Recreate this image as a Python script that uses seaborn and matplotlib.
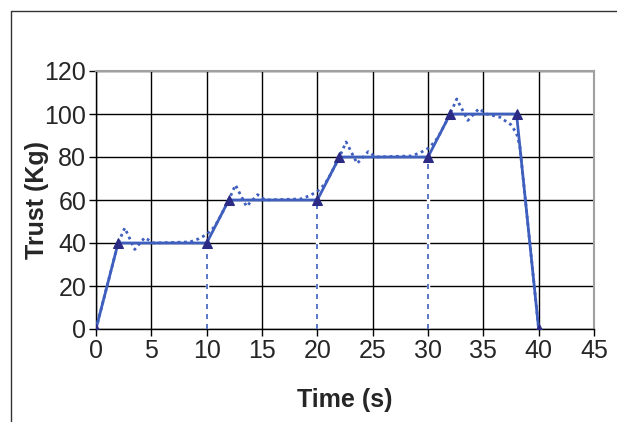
import numpy as np
import pandas as pd
import seaborn as sns
import matplotlib
matplotlib.use("Agg")
import matplotlib.pyplot as plt
from matplotlib.lines import Line2D

# commanded thrust steps (solid line with triangles)
step_time = [0, 2, 10, 12, 20, 22, 30, 32, 38, 40]
step_thrust = [0, 40, 40, 60, 60, 80, 80, 100, 100, 0]

# measured response (dotted line)
resp_time = [0, 2, 2.6, 3.5, 4.4, 5.2, 8.5, 9.3, 10, 10.6, 11,
             12, 12.6, 13.6, 14.6, 15.3, 18.5, 19.3, 20, 20.6, 21,
             22, 22.6, 23.6, 24.6, 25.3, 28.5, 29.3, 30, 30.6, 31,
             32, 32.6, 33.6, 34.6, 35.3, 36.5, 37.5, 38, 38.3, 40]
resp_thrust = [0, 40, 47, 37, 42.5, 40, 40.5, 42, 44, 47, 50,
               60, 67, 57, 62.5, 60, 60.5, 62, 64, 67, 70,
               80, 87, 77, 82.5, 80, 80.5, 82, 84, 87, 90,
               100, 107, 97, 102.5, 100, 98.5, 95, 91, 85, 0]

# dashed drop lines
drop_time = [10, 20, 30]
drop_top = [40, 60, 80]

x_ticks = [0, 5, 10, 15, 20, 25, 30, 35, 40, 45]
y_ticks = [0, 20, 40, 60, 80, 100, 120]

sns.set_style("white")
plt.rcParams['font.family'] = ['Liberation Sans', 'DejaVu Sans']

blue = "#3f5fbf"
navy = "#2b2a85"

fig = plt.figure(figsize=(6.17, 4.22), dpi=100)
ax = fig.add_axes([96/617, 1-329/422, (594-96)/617, (329-71)/422])

steps = pd.DataFrame({"t": step_time, "f": step_thrust})
resp = pd.DataFrame({"t": resp_time, "f": resp_thrust})

# drop lines hide the grid line underneath them
for t, top in zip(drop_time, drop_top):
    ax.plot([t, t], [0, top], color="white", lw=2.5, zorder=2)
    ax.plot([t, t], [0, top], color=blue, lw=1.2, dashes=[3, 3], zorder=3)

sns.lineplot(data=resp, x="t", y="f", ax=ax, color=blue, lw=2,
             ls=(0, (1, 1.3)), sort=False, estimator=None, zorder=3)
sns.lineplot(data=steps, x="t", y="f", ax=ax, color=blue, lw=2,
             sort=False, estimator=None, marker="^", markersize=7,
             markerfacecolor=navy, markeredgecolor=navy, zorder=4)

ax.set_xlim(0, 45)
ax.set_ylim(0, 120)
ax.set_xticks(x_ticks)
ax.set_yticks(y_ticks)
ax.grid(True, color="black", lw=1)
ax.set_axisbelow(True)
ax.tick_params(axis="both", direction="out", length=5, width=1, color="black",
               labelsize=18, pad=2, bottom=True, left=True)
for side in ["left", "bottom"]:
    ax.spines[side].set_color("black")
    ax.spines[side].set_linewidth(1)
for side in ["top", "right"]:
    ax.spines[side].set_visible(True)
    ax.spines[side].set_color("#a0a0a0")
    ax.spines[side].set_linewidth(1.5)

ax.set_xlabel("Time (s)", fontsize=18, fontweight="bold", labelpad=18)
ax.set_ylabel("Trust (Kg)", fontsize=18, fontweight="bold", labelpad=-3)

# figure frame (top and left edges)
fig.add_artist(Line2D([11/617, 1], [1-11/422, 1-11/422], color="#333333", lw=1,
                      transform=fig.transFigure))
fig.add_artist(Line2D([11/617, 11/617], [0, 1-11/422], color="#333333", lw=1,
                      transform=fig.transFigure))

fig.savefig("out.png", dpi=100)
